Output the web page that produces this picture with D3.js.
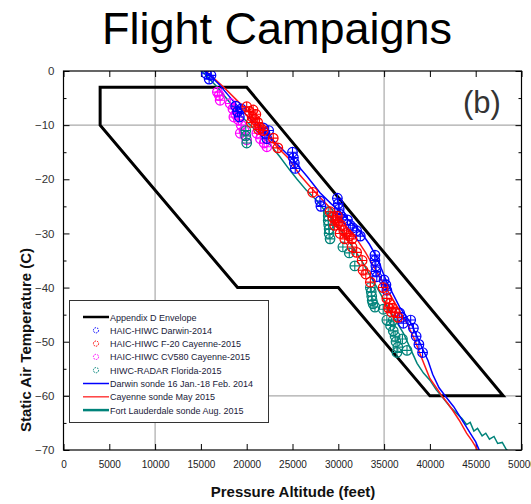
<!DOCTYPE html>
<html>
<head>
<meta charset="utf-8">
<script src="https://cdn.jsdelivr.net/npm/d3@7"></script>
<style>
  body { margin: 0; background: #fff; }
  svg { font-family: Arial, "Liberation Sans", sans-serif; }
</style>
</head>
<body>
<div id="chart"></div>
<script>
// Appendix D envelope corners [altitude ft, temp C]
var envelope = [[4000,-3],[20000,-3],[48000,-60],[40000,-60],[30000,-40],[19000,-40],[4000,-10]];

// campaign points [altitude ft, temp C]
var darwin2014 = [
  [15600,-0.5],[15900,-1.5],[16100,-0.8],
  [18800,-6.5],[19000,-7.5],[19200,-8.5],[19400,-7],
  [21800,-10.5],[22000,-11.5],[22200,-12.5],[22400,-11],
  [25000,-15],[25100,-16],[25200,-17],[25300,-18],
  [28000,-24],[28100,-25],
  [29900,-23.5],[30000,-24.5],[30100,-25.5],[30200,-26.5],[30400,-27],
  [31000,-27.5],[31300,-28.5],[31600,-29],[32000,-29.5],[32400,-30.5],
  [34000,-34],[34000,-35],[34100,-36],[34100,-37],[34200,-38],
  [35000,-38.6],[35200,-39.5],[35300,-40.5],
  [36700,-44.7],[36900,-45.5],[37100,-46.6],
  [37900,-46],[38200,-47.5],[38500,-49],[38800,-50.5],[39200,-52]
];
var f20Cayenne = [
  [20000,-6.6],[20300,-7.5],[20600,-8.5],[20900,-9],[21200,-9.5],[21500,-10.5],[21800,-11],[20500,-9.5],[21000,-8],[20700,-7.2],[21300,-10.8],
  [22900,-12.4],[23400,-14.2],
  [27200,-22.4],
  [29100,-26],[29400,-27],[29700,-27.5],[30000,-28],[30300,-28.5],[30600,-29.5],[30900,-30],[31200,-30.5],[31500,-31],[29600,-28.5],[30200,-30],[29900,-26.8],[30700,-31],
  [31500,-32.5],[32000,-33.5],[32600,-35],
  [32700,-36.8],[33000,-37.5],[33500,-39],
  [34900,-40],
  [35300,-42],[35600,-43],[35900,-43.8],[36200,-44.5],[36500,-45.5],[35800,-44.5],[35500,-43.8]
];
var cv580Cayenne = [
  [16800,-3.9],[17100,-5.4],[17000,-4.5],
  [18200,-6],[18500,-7],[18800,-8],[19100,-9],[19400,-10],[19700,-11],[20000,-12.7],[18600,-8.5],[19300,-11.5],
  [21100,-11.5],[21500,-12.5],[21900,-13.3],[22200,-14]
];
var radarFlorida = [
  [19900,-11],[19900,-12],[20000,-13.3],
  [28900,-26],[28900,-26.8],[28900,-27.6],[28950,-28.4],[29000,-29.2],[29000,-30],[29100,-31],
  [30500,-32.5],[31200,-33.6],
  [31800,-36],
  [33500,-40],[33600,-40.8],[33650,-41.6],[33700,-42.4],[33800,-43],[34000,-43.6],
  [34900,-44],[35300,-46],[35700,-47],[36000,-48],[36200,-49],[36300,-50],[36500,-51],[36000,-46],[37000,-49.5],[37500,-51.6],[36400,-52]
];

// sondes [altitude ft, temp C]
var darwinSonde = [[15300,0],[15800,-0.5],[17000,-2.5],[18000,-4.5],[19100,-6.7],[20500,-9],[21800,-11],[23600,-14],[25100,-16.5],[26600,-19.5],[28000,-22.5],[29200,-24.5],[30200,-26],[31300,-27.8],[32400,-29.6],[33400,-32],[34200,-34.4],[35300,-39],[36700,-43.6],[38000,-46.8],[38900,-50.2],[39800,-53.5],[40300,-56],[41000,-58.5],[41800,-60.3],[42600,-62],[43300,-63.9],[44400,-66.9],[45000,-68.5],[45300,-69.7],[45500,-70.5]];
var cayenneSonde = [[15500,0],[16000,-0.7],[17500,-3],[18800,-5.2],[20000,-7.2],[21500,-10.2],[23300,-14],[24500,-16],[25800,-19.2],[27000,-21.5],[28000,-23.3],[29500,-26],[30900,-28.8],[32000,-31],[33000,-33.6],[34500,-38],[36000,-42.3],[37500,-46.6],[38300,-49.5],[39100,-53],[40000,-56.8],[40700,-58.5],[41300,-60],[42000,-61.5],[42500,-62.7],[43200,-64.5],[44000,-66.9],[44600,-68.3],[45100,-69.7],[45300,-70.5]];
var fortSonde = [[15000,0],[15400,-0.5],[16800,-3],[18200,-5.9],[19500,-8.5],[21000,-11],[22500,-13.5],[23600,-15.8],[24700,-18.3],[25500,-20],[26500,-22],[27700,-24],[29000,-26.8],[30500,-29.9],[31600,-32.6],[32700,-35.5],[34200,-39.9],[35600,-44.2],[37100,-48.4],[37800,-51],[38600,-54],[39300,-55.8],[40000,-57.1],[40700,-58.9],[41400,-60.3],[42200,-62],[42900,-63.2],[43500,-64.2],[44000,-65.3],[44400,-64.9],[44800,-66.5],[45200,-66],[45700,-67.4],[46100,-66.9],[46500,-68],[47000,-67.5],[47400,-68.8],[47900,-68.6],[48300,-69.8],[48700,-70.5]];

var xTicks = [0,5000,10000,15000,20000,25000,30000,35000,40000,45000,50000];
var yTicks = [0,-10,-20,-30,-40,-50,-60,-70];
var yMinor = [-5,-15,-25,-35,-45,-55,-65];
var gridX = [10000,35000];
var gridY = [-10,-60];

var legendNames = ["Appendix D Envelope","HAIC-HIWC Darwin-2014","HAIC-HIWC F-20 Cayenne-2015","HAIC-HIWC CV580 Cayenne-2015","HIWC-RADAR Florida-2015","Darwin sonde 16 Jan.-18 Feb. 2014","Cayenne sonde May 2015","Fort Lauderdale sonde Aug. 2015"];

var W = 531, H = 504;
var x = d3.scaleLinear().domain([0,50000]).range([63.5,521.5]);
var y = d3.scaleLinear().domain([0,-70]).range([71,450]);

var svg = d3.select('#chart').append('svg').attr('width', W).attr('height', H);

svg.append('text').attr('x', 277).attr('y', 44).attr('text-anchor','middle')
  .style('font-size','45px').attr('fill','#000').text('Flight Campaigns');

svg.append('clipPath').attr('id','plotclip').append('rect')
  .attr('x', x(0)).attr('y', y(0)).attr('width', x(50000)-x(0)).attr('height', y(-70)-y(0));

// reference grid lines
svg.selectAll('.gx').data(gridX).enter().append('line')
  .attr('x1', d=>x(d)).attr('x2', d=>x(d)).attr('y1', y(0)).attr('y2', y(-70))
  .attr('stroke','#aaa').attr('stroke-width',1.2);
svg.selectAll('.gy').data(gridY).enter().append('line')
  .attr('y1', d=>y(d)).attr('y2', d=>y(d)).attr('x1', x(0)).attr('x2', x(50000))
  .attr('stroke','#aaa').attr('stroke-width',1.2);

// axes (ticks inward)
function styleAxis(g){
  g.select('.domain').remove();
  g.selectAll('.tick line').attr('stroke','#000');
}
svg.append('g').attr('transform','translate(0,'+y(-70)+')')
  .call(d3.axisBottom(x).tickValues(xTicks).tickSizeInner(-6).tickSizeOuter(0).tickPadding(11).tickFormat(d3.format('d')))
  .call(styleAxis)
  .selectAll('text').style('font-size','10px').attr('fill','#222');
svg.append('g').attr('transform','translate(0,'+y(0)+')')
  .call(d3.axisTop(x).tickValues(xTicks).tickSizeInner(-6).tickSizeOuter(0).tickFormat(''))
  .call(styleAxis);
svg.append('g').attr('transform','translate('+x(0)+',0)')
  .call(d3.axisLeft(y).tickValues(yTicks).tickSizeInner(-6).tickSizeOuter(0).tickPadding(9))
  .call(styleAxis)
  .selectAll('text').style('font-size','11.5px').attr('fill','#333');
svg.append('g').attr('transform','translate('+x(0)+',0)')
  .call(d3.axisLeft(y).tickValues(yMinor).tickSizeInner(-3).tickSizeOuter(0).tickFormat(''))
  .call(styleAxis);
svg.append('g').attr('transform','translate('+x(50000)+',0)')
  .call(d3.axisRight(y).tickValues(yTicks).tickSizeInner(-6).tickSizeOuter(0).tickFormat(''))
  .call(styleAxis);
svg.append('g').attr('transform','translate('+x(50000)+',0)')
  .call(d3.axisRight(y).tickValues(yMinor).tickSizeInner(-3).tickSizeOuter(0).tickFormat(''))
  .call(styleAxis);

var line = d3.line().x(d=>x(d[0])).y(d=>y(d[1]));
var plot = svg.append('g').attr('clip-path','url(#plotclip)');

// envelope
plot.append('path').datum(envelope)
  .attr('d', d3.line().x(d=>x(d[0])).y(d=>y(d[1])).curve(d3.curveLinearClosed))
  .attr('fill','none').attr('stroke','#000').attr('stroke-width',3).attr('stroke-linejoin','miter');

// sondes
var sondes = [[fortSonde,'#00837a'],[cayenneSonde,'#ff1a1a'],[darwinSonde,'#0000ff']];
sondes.forEach(function(s){
  plot.append('path').datum(s[0]).attr('d', line)
    .attr('fill','none').attr('stroke', s[1]).attr('stroke-width',1.5);
});

// campaign markers: circle with cross
function markers(data, color){
  var r = 4.8;
  var g = plot.append('g');
  var m = g.selectAll('g').data(data).enter().append('g')
    .attr('transform', d=>'translate('+x(d[0])+','+y(d[1])+')');
  m.append('circle').attr('r', r).attr('fill','none').attr('stroke', color).attr('stroke-width',1.2);
  m.append('path').attr('d','M'+(-r)+',0H'+r+'M0,'+(-r)+'V'+r)
    .attr('stroke', color).attr('stroke-width',1.1);
}
markers(cv580Cayenne, '#ff00ff');
markers(radarFlorida, '#00837a');
markers(darwin2014, '#0000ff');
markers(f20Cayenne, '#ff0000');

// frame
svg.append('rect').attr('x', x(0)).attr('y', y(0))
  .attr('width', x(50000)-x(0)).attr('height', y(-70)-y(0))
  .attr('fill','none').attr('stroke','#000').attr('stroke-width',1.2);

svg.append('text').attr('x', 482).attr('y', 113).attr('text-anchor','middle')
  .style('font-size','31px').attr('fill','#333').text('(b)');

// legend
var lg = svg.append('g');
lg.append('rect').attr('x',69.5).attr('y',300.5).attr('width',199).attr('height',122)
  .attr('fill','#fff').attr('stroke','#333').attr('stroke-width',1);
var styles = [
  {type:'line', color:'#000', w:2.5},
  {type:'mark', color:'#0000ff'},
  {type:'mark', color:'#ff0000'},
  {type:'mark', color:'#ff00ff'},
  {type:'mark', color:'#00837a'},
  {type:'line', color:'#0000ff', w:1.5},
  {type:'line', color:'#ff4040', w:1.5},
  {type:'line', color:'#00837a', w:2.5}
];
legendNames.forEach(function(name, i){
  var yy = 317 + i*13.3;
  var st = styles[i];
  if (st.type === 'line') {
    lg.append('line').attr('x1',83).attr('x2',109).attr('y1',yy).attr('y2',yy)
      .attr('stroke', st.color).attr('stroke-width', st.w);
  } else {
    lg.append('circle').attr('cx',96).attr('cy',yy).attr('r',2.6)
      .attr('fill','none').attr('stroke', st.color).attr('stroke-width',1)
      .attr('stroke-dasharray','1.6,1');
  }
  lg.append('text').attr('x',110).attr('y',yy+3.5).style('font-size','9px')
    .attr('fill','#1a1a3a').text(name);
});

// axis titles
svg.append('text').attr('x', 293).attr('y', 497).attr('text-anchor','middle')
  .style('font-size','15px').style('font-weight','bold').attr('fill','#111').text('Pressure Altitude (feet)');
svg.append('text').attr('transform','translate(31,340) rotate(-90)').attr('text-anchor','middle')
  .style('font-size','15px').style('font-weight','bold').attr('fill','#111').text('Static Air Temperature (C)');
</script>
</body>
</html>
